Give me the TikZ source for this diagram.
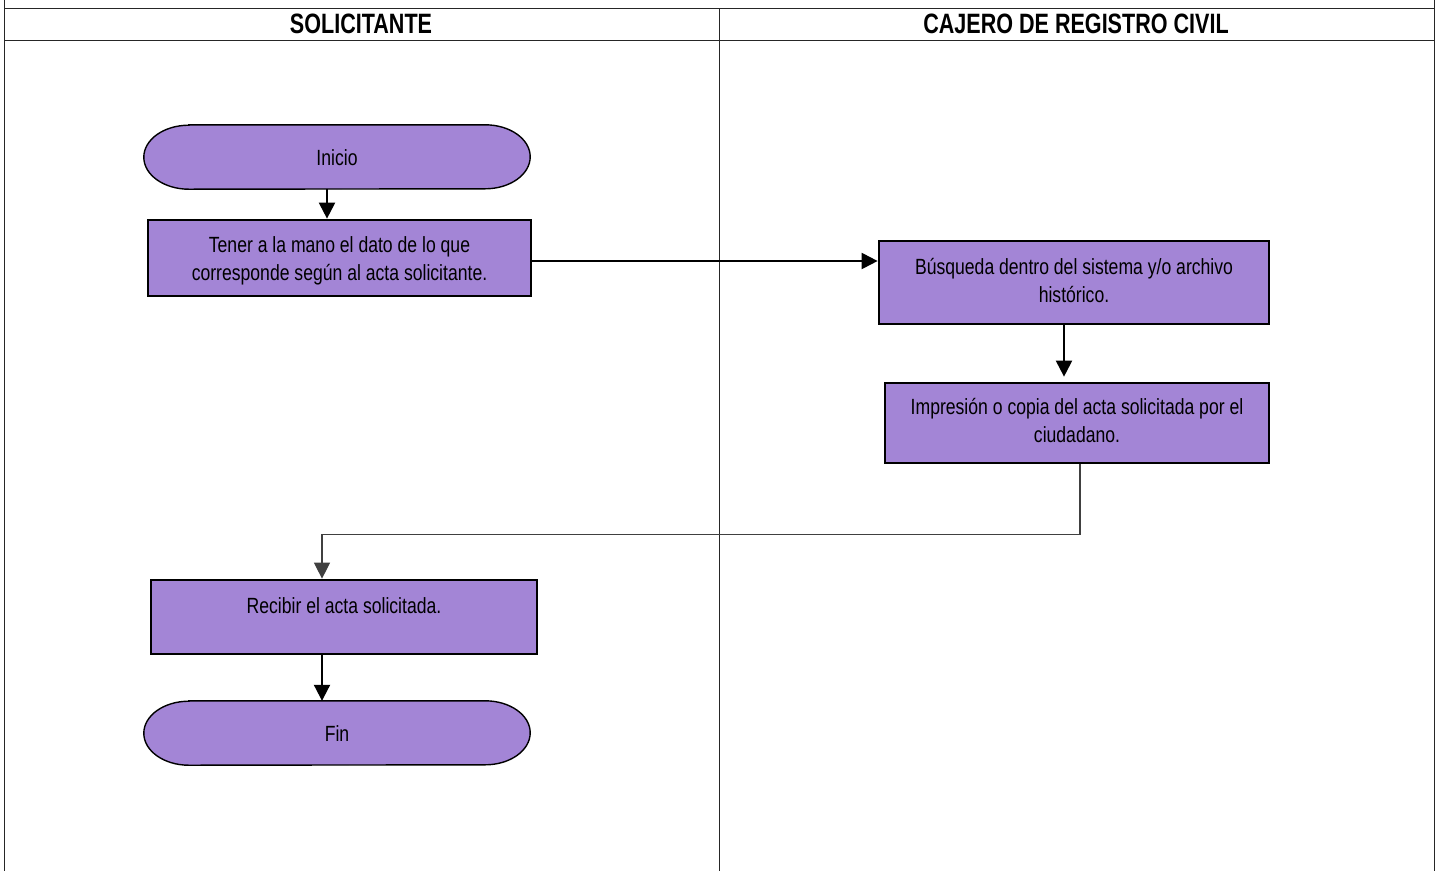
\documentclass[tikz,border=0pt]{standalone}
\usepackage{fontspec}
\setmainfont{Liberation Sans}
\newfontfamily\narrowfont[FakeStretch=0.8]{Liberation Sans}
\newfontfamily\narrowhead[FakeStretch=0.77]{Liberation Sans}
\usetikzlibrary{arrows.meta,backgrounds}
\definecolor{boxpurple}{RGB}{163,133,214}
\tikzset{
  lane/.style={line width=0.9pt,draw=black!85},
  header/.style={font=\narrowhead\bfseries\fontsize{28}{30}\selectfont,inner sep=0pt},
  procbox/.style={draw=black,line width=2.7pt,fill=boxpurple,inner sep=0pt},
  boxtext/.style={align=center,font=\narrowfont\fontsize{22}{28}\selectfont,inner sep=0pt},
  termnode/.style={minimum width=386pt,minimum height=64pt,inner sep=0pt},
  termshape/.style={draw=black,line width=1.4pt,fill=boxpurple},
  arr/.style={draw=black,line width=2pt,-{Triangle[length=16pt,width=16pt]}},
  arrthin/.style={draw=black!75,line width=1.1pt,-{Triangle[length=16pt,width=16pt]}}
}
\begin{document}
\begin{tikzpicture}[x=1pt,y=1pt]
\useasboundingbox (0,0) rectangle (1439,-871);
% lanes frame
\draw[lane] (4,0) -- (4,-871);
\draw[lane] (1434,0) -- (1434,-871);
\draw[lane] (4,-8) -- (1434,-8);
\draw[lane] (4,-40) -- (1434,-40);
\draw[lane] (719,-8) -- (719,-871);
\node[header] (h1) at (361,-24) {SOLICITANTE};
\node[header] (h2) at (1076,-24) {CAJERO DE REGISTRO CIVIL};
% shapes
\node[termnode] (inicio) at (337,-157) {};
\node[procbox,minimum width=383pt,minimum height=76pt] (tener) at (339.5,-258) {};
\node[procbox,minimum width=390pt,minimum height=83pt] (busq) at (1074,-282.5) {};
\node[procbox,minimum width=384pt,minimum height=80pt] (impr) at (1077,-423) {};
\node[procbox,minimum width=386pt,minimum height=74pt] (recibir) at (344,-617) {};
\node[termnode] (fin) at (337,-733) {};
\foreach \n in {inicio,fin}{
  \draw[termshape] ([xshift=45pt]\n.north west) -- ([xshift=-45pt]\n.north east)
    arc[start angle=90,end angle=-90,x radius=45pt,y radius=32pt]
    -- ([xshift=45pt]\n.south west)
    arc[start angle=270,end angle=90,x radius=45pt,y radius=32pt] -- cycle;
}
% texts
\node[boxtext] (tinicio) at ([yshift=-1pt]inicio.center) {Inicio};
\node[boxtext] (ttener) at ([yshift=-3pt]tener.center)
  {Tener a la mano el dato de lo que\\corresponde según al acta solicitante.};
\node[boxtext] (tbusq) at ([yshift=2pt]busq.center)
  {Búsqueda dentro del sistema y/o archivo\\histórico.};
\node[boxtext] (timpr) at ([yshift=3pt]impr.center)
  {Impresión o copia del acta solicitada por el\\ciudadano.};
\node[boxtext] (trecibir) at ([yshift=-3pt]recibir.center)
  {Recibir el acta solicitada.\\\mbox{}};
\node[boxtext] (tfin) at ([yshift=-1pt]fin.center) {Fin};
% connectors
\draw[arr] ([xshift=-10pt]inicio.south) -- ([xshift=-12.5pt]tener.north);
\draw[arr] ([yshift=-3pt]tener.east) -- ([yshift=-3pt]tener.east -| busq.west);
\draw[arr,shorten >=5pt] ([xshift=-10pt]busq.south) -- ([xshift=-13pt]impr.north);
\draw[arrthin] ([xshift=3pt]impr.south) -- ++(0,-70) -| ([xshift=-22pt]recibir.north);
\draw[arr] ([xshift=-22pt]recibir.south) -- ([xshift=-15pt]fin.north);
\end{tikzpicture}
\end{document}
